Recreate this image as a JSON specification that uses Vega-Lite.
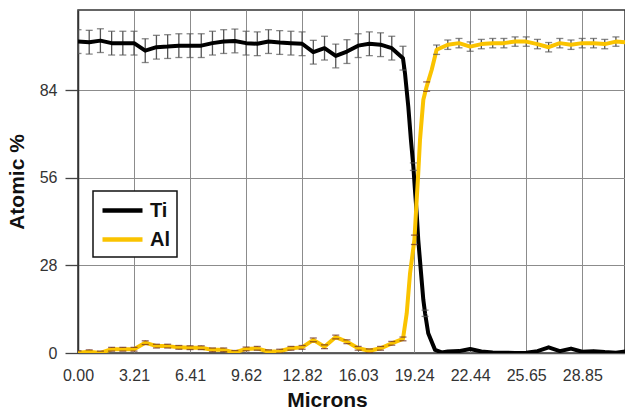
{
  "$schema": "https://vega.github.io/schema/vega-lite/v6.json",
  "width": 547,
  "height": 343,
  "autosize": "none",
  "padding": {"left": 78, "top": 10, "right": 0, "bottom": 62},
  "background": "white",
  "config": {
    "view": {"stroke": "#333", "strokeWidth": 1.5},
    "font": "Liberation Sans",
    "legend": {"strokeWidth": 1.5}
  },
  "datasets": {
    "pts": [
      {"s": "Ti", "x": 0, "v": 99.6}, {"s": "Ti", "x": 0.641, "v": 99.4}, {"s": "Ti", "x": 1.282, "v": 99.9}, {"s": "Ti", "x": 1.924, "v": 99.1},
      {"s": "Ti", "x": 2.565, "v": 99.1}, {"s": "Ti", "x": 3.206, "v": 99.1}, {"s": "Ti", "x": 3.847, "v": 96.7}, {"s": "Ti", "x": 4.488, "v": 97.8},
      {"s": "Ti", "x": 5.13, "v": 98.0}, {"s": "Ti", "x": 5.771, "v": 98.3}, {"s": "Ti", "x": 6.412, "v": 98.3}, {"s": "Ti", "x": 7.053, "v": 98.3},
      {"s": "Ti", "x": 7.694, "v": 99.1}, {"s": "Ti", "x": 8.336, "v": 99.6}, {"s": "Ti", "x": 8.977, "v": 99.8}, {"s": "Ti", "x": 9.618, "v": 99.1},
      {"s": "Ti", "x": 10.259, "v": 98.9}, {"s": "Ti", "x": 10.9, "v": 99.6}, {"s": "Ti", "x": 11.542, "v": 99.3}, {"s": "Ti", "x": 12.183, "v": 99.1},
      {"s": "Ti", "x": 12.824, "v": 98.9}, {"s": "Ti", "x": 13.465, "v": 96.2}, {"s": "Ti", "x": 14.106, "v": 97.5}, {"s": "Ti", "x": 14.748, "v": 95.0},
      {"s": "Ti", "x": 15.389, "v": 96.4}, {"s": "Ti", "x": 16.03, "v": 98.3}, {"s": "Ti", "x": 16.671, "v": 98.9}, {"s": "Ti", "x": 17.312, "v": 98.6},
      {"s": "Ti", "x": 17.954, "v": 97.5}, {"s": "Ti", "x": 18.595, "v": 94.3}, {"s": "Ti", "x": 18.71, "v": 89.5}, {"s": "Ti", "x": 18.9, "v": 78.8},
      {"s": "Ti", "x": 19.05, "v": 68.2}, {"s": "Ti", "x": 19.19, "v": 59.6}, {"s": "Ti", "x": 19.28, "v": 52.2}, {"s": "Ti", "x": 19.38, "v": 44.7},
      {"s": "Ti", "x": 19.47, "v": 36.2}, {"s": "Ti", "x": 19.63, "v": 25.5}, {"s": "Ti", "x": 19.76, "v": 17.0}, {"s": "Ti", "x": 19.86, "v": 12.7},
      {"s": "Ti", "x": 20.04, "v": 6.3}, {"s": "Ti", "x": 20.43, "v": 1.0}, {"s": "Ti", "x": 20.81, "v": 0.2}, {"s": "Ti", "x": 21.16, "v": 0.5},
      {"s": "Ti", "x": 21.8, "v": 0.6}, {"s": "Ti", "x": 22.44, "v": 1.3}, {"s": "Ti", "x": 23.08, "v": 0.5}, {"s": "Ti", "x": 23.73, "v": 0.2},
      {"s": "Ti", "x": 24.37, "v": 0.1}, {"s": "Ti", "x": 25.01, "v": 0.0}, {"s": "Ti", "x": 25.65, "v": 0.1}, {"s": "Ti", "x": 26.29, "v": 0.6},
      {"s": "Ti", "x": 26.93, "v": 1.8}, {"s": "Ti", "x": 27.57, "v": 0.6}, {"s": "Ti", "x": 28.21, "v": 1.4}, {"s": "Ti", "x": 28.85, "v": 0.4},
      {"s": "Ti", "x": 29.5, "v": 0.6}, {"s": "Ti", "x": 30.14, "v": 0.3}, {"s": "Ti", "x": 30.78, "v": 0.1}, {"s": "Ti", "x": 31.42, "v": 0.6},
      {"s": "Al", "x": 0, "v": 0.1}, {"s": "Al", "x": 0.641, "v": 0.4}, {"s": "Al", "x": 1.282, "v": 0.0}, {"s": "Al", "x": 1.924, "v": 1.2},
      {"s": "Al", "x": 2.565, "v": 1.2}, {"s": "Al", "x": 3.206, "v": 1.2}, {"s": "Al", "x": 3.847, "v": 3.3}, {"s": "Al", "x": 4.488, "v": 2.2},
      {"s": "Al", "x": 5.13, "v": 2.2}, {"s": "Al", "x": 5.771, "v": 1.8}, {"s": "Al", "x": 6.412, "v": 1.7}, {"s": "Al", "x": 7.053, "v": 1.7},
      {"s": "Al", "x": 7.694, "v": 1.0}, {"s": "Al", "x": 8.336, "v": 1.0}, {"s": "Al", "x": 8.977, "v": 0.2}, {"s": "Al", "x": 9.618, "v": 1.3},
      {"s": "Al", "x": 10.259, "v": 1.5}, {"s": "Al", "x": 10.9, "v": 0.4}, {"s": "Al", "x": 11.542, "v": 0.6}, {"s": "Al", "x": 12.183, "v": 1.5},
      {"s": "Al", "x": 12.824, "v": 1.8}, {"s": "Al", "x": 13.465, "v": 4.2}, {"s": "Al", "x": 14.106, "v": 2.0}, {"s": "Al", "x": 14.748, "v": 5.1},
      {"s": "Al", "x": 15.389, "v": 3.6}, {"s": "Al", "x": 16.03, "v": 1.5}, {"s": "Al", "x": 16.671, "v": 0.7}, {"s": "Al", "x": 17.312, "v": 1.5},
      {"s": "Al", "x": 17.954, "v": 3.1}, {"s": "Al", "x": 18.595, "v": 4.5}, {"s": "Al", "x": 18.81, "v": 12.7}, {"s": "Al", "x": 19.0, "v": 25.5},
      {"s": "Al", "x": 19.25, "v": 36.2}, {"s": "Al", "x": 19.38, "v": 49.0}, {"s": "Al", "x": 19.47, "v": 57.5}, {"s": "Al", "x": 19.57, "v": 68.2},
      {"s": "Al", "x": 19.76, "v": 81.0}, {"s": "Al", "x": 19.95, "v": 85.2}, {"s": "Al", "x": 20.24, "v": 90.6}, {"s": "Al", "x": 20.52, "v": 97.0},
      {"s": "Al", "x": 21.16, "v": 98.6}, {"s": "Al", "x": 21.8, "v": 99.1}, {"s": "Al", "x": 22.44, "v": 98.0}, {"s": "Al", "x": 23.08, "v": 98.8},
      {"s": "Al", "x": 23.73, "v": 99.1}, {"s": "Al", "x": 24.37, "v": 99.1}, {"s": "Al", "x": 25.01, "v": 99.6}, {"s": "Al", "x": 25.65, "v": 99.6},
      {"s": "Al", "x": 26.29, "v": 98.8}, {"s": "Al", "x": 26.93, "v": 97.8}, {"s": "Al", "x": 27.57, "v": 99.1}, {"s": "Al", "x": 28.21, "v": 98.6},
      {"s": "Al", "x": 28.85, "v": 99.1}, {"s": "Al", "x": 29.5, "v": 99.1}, {"s": "Al", "x": 30.14, "v": 98.8}, {"s": "Al", "x": 30.78, "v": 99.6},
      {"s": "Al", "x": 31.42, "v": 99.3}
    ],
    "err": [
      {"s": "Ti", "x": 0, "lo": 95.8, "hi": 103.4}, {"s": "Ti", "x": 0.641, "lo": 95.6, "hi": 103.2}, {"s": "Ti", "x": 1.282, "lo": 96.1, "hi": 103.7},
      {"s": "Ti", "x": 1.924, "lo": 95.3, "hi": 102.9}, {"s": "Ti", "x": 2.565, "lo": 95.3, "hi": 102.9}, {"s": "Ti", "x": 3.206, "lo": 95.3, "hi": 102.9},
      {"s": "Ti", "x": 3.847, "lo": 92.9, "hi": 100.5}, {"s": "Ti", "x": 4.488, "lo": 94.0, "hi": 101.6}, {"s": "Ti", "x": 5.13, "lo": 94.2, "hi": 101.8},
      {"s": "Ti", "x": 5.771, "lo": 94.5, "hi": 102.1}, {"s": "Ti", "x": 6.412, "lo": 94.5, "hi": 102.1}, {"s": "Ti", "x": 7.053, "lo": 94.5, "hi": 102.1},
      {"s": "Ti", "x": 7.694, "lo": 95.3, "hi": 102.9}, {"s": "Ti", "x": 8.336, "lo": 95.8, "hi": 103.4}, {"s": "Ti", "x": 8.977, "lo": 96.0, "hi": 103.6},
      {"s": "Ti", "x": 9.618, "lo": 95.3, "hi": 102.9}, {"s": "Ti", "x": 10.259, "lo": 95.1, "hi": 102.7}, {"s": "Ti", "x": 10.9, "lo": 95.8, "hi": 103.4},
      {"s": "Ti", "x": 11.542, "lo": 95.5, "hi": 103.1}, {"s": "Ti", "x": 12.183, "lo": 95.3, "hi": 102.9}, {"s": "Ti", "x": 12.824, "lo": 95.1, "hi": 102.7},
      {"s": "Ti", "x": 13.465, "lo": 92.4, "hi": 100.0}, {"s": "Ti", "x": 14.106, "lo": 93.7, "hi": 101.3}, {"s": "Ti", "x": 14.748, "lo": 91.2, "hi": 98.8},
      {"s": "Ti", "x": 15.389, "lo": 92.6, "hi": 100.2}, {"s": "Ti", "x": 16.03, "lo": 94.5, "hi": 102.1}, {"s": "Ti", "x": 16.671, "lo": 95.1, "hi": 102.7},
      {"s": "Ti", "x": 17.312, "lo": 94.8, "hi": 102.4}, {"s": "Ti", "x": 17.954, "lo": 93.7, "hi": 101.3}, {"s": "Ti", "x": 18.595, "lo": 90.5, "hi": 98.1},
      {"s": "Ti", "x": 19.19, "lo": 58.4, "hi": 60.8}, {"s": "Ti", "x": 19.86, "lo": 11.7, "hi": 13.7},
      {"s": "Al", "x": 0, "lo": -0.5, "hi": 0.7}, {"s": "Al", "x": 0.641, "lo": -0.2, "hi": 1.0}, {"s": "Al", "x": 1.282, "lo": -0.6, "hi": 0.6},
      {"s": "Al", "x": 1.924, "lo": 0.6, "hi": 1.8}, {"s": "Al", "x": 2.565, "lo": 0.6, "hi": 1.8}, {"s": "Al", "x": 3.206, "lo": 0.6, "hi": 1.8},
      {"s": "Al", "x": 3.847, "lo": 2.7, "hi": 3.9}, {"s": "Al", "x": 4.488, "lo": 1.6, "hi": 2.8}, {"s": "Al", "x": 5.13, "lo": 1.6, "hi": 2.8},
      {"s": "Al", "x": 5.771, "lo": 1.2, "hi": 2.4}, {"s": "Al", "x": 6.412, "lo": 1.1, "hi": 2.3}, {"s": "Al", "x": 7.053, "lo": 1.1, "hi": 2.3},
      {"s": "Al", "x": 7.694, "lo": 0.4, "hi": 1.6}, {"s": "Al", "x": 8.336, "lo": 0.4, "hi": 1.6}, {"s": "Al", "x": 8.977, "lo": -0.4, "hi": 0.8},
      {"s": "Al", "x": 9.618, "lo": 0.7, "hi": 1.9}, {"s": "Al", "x": 10.259, "lo": 0.9, "hi": 2.1}, {"s": "Al", "x": 10.9, "lo": -0.2, "hi": 1.0},
      {"s": "Al", "x": 11.542, "lo": 0.0, "hi": 1.2}, {"s": "Al", "x": 12.183, "lo": 0.9, "hi": 2.1}, {"s": "Al", "x": 12.824, "lo": 1.2, "hi": 2.4},
      {"s": "Al", "x": 13.465, "lo": 3.6, "hi": 4.8}, {"s": "Al", "x": 14.106, "lo": 1.4, "hi": 2.6}, {"s": "Al", "x": 14.748, "lo": 4.5, "hi": 5.7},
      {"s": "Al", "x": 15.389, "lo": 3.0, "hi": 4.2}, {"s": "Al", "x": 16.03, "lo": 0.9, "hi": 2.1}, {"s": "Al", "x": 16.671, "lo": 0.1, "hi": 1.3},
      {"s": "Al", "x": 17.312, "lo": 0.9, "hi": 2.1}, {"s": "Al", "x": 17.954, "lo": 2.5, "hi": 3.7}, {"s": "Al", "x": 18.595, "lo": 3.9, "hi": 5.1},
      {"s": "Al", "x": 19.25, "lo": 34.7, "hi": 37.7}, {"s": "Al", "x": 19.95, "lo": 83.7, "hi": 86.7},
      {"s": "Al", "x": 20.52, "lo": 95.5, "hi": 98.5}, {"s": "Al", "x": 21.16, "lo": 97.1, "hi": 100.1}, {"s": "Al", "x": 21.8, "lo": 97.6, "hi": 100.6},
      {"s": "Al", "x": 22.44, "lo": 96.5, "hi": 99.5}, {"s": "Al", "x": 23.08, "lo": 97.3, "hi": 100.3}, {"s": "Al", "x": 23.73, "lo": 97.6, "hi": 100.6},
      {"s": "Al", "x": 24.37, "lo": 97.6, "hi": 100.6}, {"s": "Al", "x": 25.01, "lo": 98.1, "hi": 101.1}, {"s": "Al", "x": 25.65, "lo": 98.1, "hi": 101.1},
      {"s": "Al", "x": 26.29, "lo": 97.3, "hi": 100.3}, {"s": "Al", "x": 26.93, "lo": 96.3, "hi": 99.3}, {"s": "Al", "x": 27.57, "lo": 97.6, "hi": 100.6},
      {"s": "Al", "x": 28.21, "lo": 97.1, "hi": 100.1}, {"s": "Al", "x": 28.85, "lo": 97.6, "hi": 100.6}, {"s": "Al", "x": 29.5, "lo": 97.6, "hi": 100.6},
      {"s": "Al", "x": 30.14, "lo": 97.3, "hi": 100.3}, {"s": "Al", "x": 30.78, "lo": 98.1, "hi": 101.1}
    ]
  },
  "layer": [
    {
      "data": {"name": "err"},
      "mark": {"type": "rule", "color": "#555555", "strokeWidth": 1.3, "clip": true},
      "encoding": {
        "x": {
          "field": "x", "type": "quantitative", "title": "Microns",
          "scale": {"domain": [0, 31.3], "nice": false, "zero": false},
          "axis": {
            "values": [0, 3.206, 6.412, 9.618, 12.824, 16.03, 19.236, 22.442, 25.648, 28.854],
            "format": ".2f", "grid": true, "gridColor": "#8c8c8c", "gridWidth": 1, "gridOpacity": 1,
            "ticks": false, "tickSize": 0, "domainColor": "#555", "domainWidth": 1.5,
            "labelFlush": false, "labelOverlap": false,
            "labelFont": "Liberation Sans", "labelFontSize": 16, "labelColor": "#333", "labelPadding": 14,
            "titleFont": "Liberation Sans", "titleFontSize": 21, "titleFontWeight": "bold", "titleColor": "#111",
            "titlePadding": 6, "titleX": 249
          }
        },
        "y": {
          "field": "lo", "type": "quantitative", "title": "Atomic %",
          "scale": {"domain": [0, 109.7], "nice": false, "zero": false},
          "axis": {
            "values": [0, 28, 56, 84], "grid": true, "gridColor": "#8c8c8c", "gridWidth": 1, "gridOpacity": 1,
            "tickSize": 13, "tickColor": "#444", "tickWidth": 1.3, "domainColor": "#333", "domainWidth": 1.5,
            "labelFont": "Liberation Sans", "labelFontSize": 16, "labelColor": "#333", "labelPadding": 8,
            "titleFont": "Liberation Sans", "titleFontSize": 21, "titleFontWeight": "bold", "titleColor": "#111",
            "titlePadding": 12
          }
        },
        "y2": {"field": "hi"}
      }
    },
    {
      "data": {"name": "pts"},
      "mark": {"type": "line", "strokeWidth": 4, "clip": true, "strokeJoin": "round"},
      "encoding": {
        "x": {"field": "x", "type": "quantitative", "title": "Microns"},
        "y": {"field": "v", "type": "quantitative", "title": "Atomic %"},
        "color": {
          "field": "s", "type": "nominal",
          "scale": {"domain": ["Ti", "Al"], "range": ["#000000", "#FAC300"]},
          "legend": {
            "title": null, "orient": "none", "legendX": 15, "legendY": 181,
            "fillColor": "white", "strokeColor": "#111",
            "padding": 7, "rowPadding": 6,
            "symbolType": "M-1,0H3", "symbolSize": 400, "symbolStrokeWidth": 4.5,
            "labelOffset": 25, "labelFont": "Liberation Sans", "labelFontSize": 20, "labelFontWeight": "bold", "labelColor": "#111"
          }
        }
      }
    },
    {
      "data": {"name": "err"},
      "transform": [{"filter": "datum.s == 'Ti' || datum.x > 20"}],
      "mark": {"type": "tick", "orient": "horizontal", "size": 7, "thickness": 1.3, "color": "#555555", "clip": true},
      "encoding": {
        "x": {"field": "x", "type": "quantitative", "title": "Microns"},
        "y": {"field": "lo", "type": "quantitative", "title": "Atomic %"}
      }
    },
    {
      "data": {"name": "err"},
      "transform": [{"filter": "datum.s == 'Ti' || datum.x > 20"}],
      "mark": {"type": "tick", "orient": "horizontal", "size": 7, "thickness": 1.3, "color": "#555555", "clip": true},
      "encoding": {
        "x": {"field": "x", "type": "quantitative", "title": "Microns"},
        "y": {"field": "hi", "type": "quantitative", "title": "Atomic %"}
      }
    },
    {
      "data": {"name": "err"},
      "transform": [{"filter": "datum.s == 'Al' && datum.x < 20"}],
      "mark": {"type": "tick", "orient": "horizontal", "size": 7, "thickness": 1.3, "color": "#6a2a20", "clip": true},
      "encoding": {
        "x": {"field": "x", "type": "quantitative", "title": "Microns"},
        "y": {"field": "lo", "type": "quantitative", "title": "Atomic %"}
      }
    },
    {
      "data": {"name": "err"},
      "transform": [{"filter": "datum.s == 'Al' && datum.x < 20"}],
      "mark": {"type": "tick", "orient": "horizontal", "size": 7, "thickness": 1.3, "color": "#6a2a20", "clip": true},
      "encoding": {
        "x": {"field": "x", "type": "quantitative", "title": "Microns"},
        "y": {"field": "hi", "type": "quantitative", "title": "Atomic %"}
      }
    }
  ]
}
